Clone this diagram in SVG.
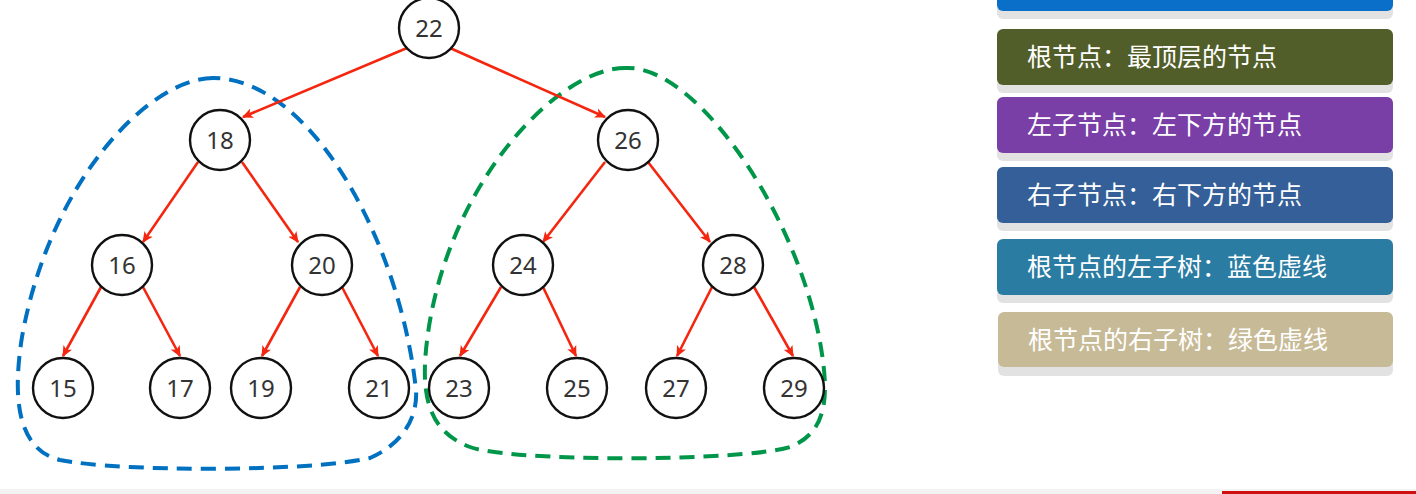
<svg xmlns="http://www.w3.org/2000/svg" width="1416" height="494" viewBox="0 0 1416 494">
<style>
.node circle{fill:#fff;stroke:#111;stroke-width:2.4}
.node text{font-family:"Noto Sans","Open Sans","DejaVu Sans",sans-serif;font-size:24px;fill:#333;text-anchor:middle}
.edge{stroke:#F5260F;stroke-width:2.6;fill:none;marker-end:url(#ah)}
.shadow{fill:#E2E2E2}
.lbl{font-family:"Noto Sans CJK SC","Noto Sans",sans-serif;font-size:25px;fill:#fff}
.hull{fill:none;stroke-width:4;stroke-dasharray:15 9}
</style>
<defs>
<marker id="ah" viewBox="0 0 10 10" refX="9" refY="5" markerWidth="11" markerHeight="11" markerUnits="userSpaceOnUse" orient="auto">
<path d="M0,0.5 L10,5 L0,9.5 L2.5,5 Z" fill="#F5260F"/>
</marker>
</defs>
<rect width="1416" height="494" fill="#fff"/>
<rect x="0" y="489" width="1416" height="5" fill="#F3F3F3"/>
<rect x="1222" y="491" width="194" height="3" fill="#D01010"/>

<g id="hulls">
<path class="hull" stroke="#0070C0" d="M213,78 C150,78 50,180 22,337 C12,400 18,450 60,460 C120,472 310,472 370,458 C400,445 418,420 416,390 C400,240 310,78 213,78 Z"/>
<path class="hull" stroke="#00964A" d="M627,68 C560,66 450,180 428,333 C420,390 425,430 470,447 C510,462 740,462 790,447 C820,435 828,410 824,370 C810,230 700,66 627,68 Z"/>
</g>

<g id="connectors">
<line class="edge" x1="407" y1="48" x2="243" y2="117"/>
<line class="edge" x1="450" y1="48" x2="605" y2="117"/>
<line class="edge" x1="198" y1="162" x2="143" y2="242"/>
<line class="edge" x1="242" y1="162" x2="298" y2="242"/>
<line class="edge" x1="605" y1="162" x2="543" y2="242"/>
<line class="edge" x1="648" y1="162" x2="710" y2="242"/>
<line class="edge" x1="101" y1="287" x2="63" y2="356"/>
<line class="edge" x1="143" y1="287" x2="180" y2="356"/>
<line class="edge" x1="300" y1="287" x2="262" y2="356"/>
<line class="edge" x1="342" y1="287" x2="378" y2="356"/>
<line class="edge" x1="501" y1="287" x2="460" y2="356"/>
<line class="edge" x1="543" y1="287" x2="576" y2="356"/>
<line class="edge" x1="712" y1="287" x2="677" y2="356"/>
<line class="edge" x1="754" y1="287" x2="793" y2="356"/>
</g>

<g id="n22" class="node"><circle cx="429" cy="28" r="30"/><text x="429" y="37">22</text></g>
<g id="n18" class="node"><circle cx="220" cy="140" r="30"/><text x="220" y="149">18</text></g>
<g id="n26" class="node"><circle cx="628" cy="140" r="30"/><text x="628" y="149">26</text></g>
<g id="n16" class="node"><circle cx="122" cy="265" r="30"/><text x="122" y="274">16</text></g>
<g id="n20" class="node"><circle cx="322" cy="265" r="30"/><text x="322" y="274">20</text></g>
<g id="n24" class="node"><circle cx="523" cy="265" r="30"/><text x="523" y="274">24</text></g>
<g id="n28" class="node"><circle cx="733" cy="265" r="30"/><text x="733" y="274">28</text></g>
<g id="n15" class="node"><circle cx="63" cy="388" r="30"/><text x="63" y="397">15</text></g>
<g id="n17" class="node"><circle cx="180" cy="388" r="30"/><text x="180" y="397">17</text></g>
<g id="n19" class="node"><circle cx="261" cy="388" r="30"/><text x="261" y="397">19</text></g>
<g id="n21" class="node"><circle cx="379" cy="388" r="30"/><text x="379" y="397">21</text></g>
<g id="n23" class="node"><circle cx="459" cy="388" r="30"/><text x="459" y="397">23</text></g>
<g id="n25" class="node"><circle cx="577" cy="388" r="30"/><text x="577" y="397">25</text></g>
<g id="n27" class="node"><circle cx="676" cy="388" r="30"/><text x="676" y="397">27</text></g>
<g id="n29" class="node"><circle cx="794" cy="388" r="30"/><text x="794" y="397">29</text></g>

<g id="legend-top">
<rect class="shadow" x="997" y="-30" width="396" height="49" rx="6"/>
<rect x="997" y="-40" width="396" height="51" rx="6" fill="#0A6FC8"/>
</g>
<g id="legend-root">
<rect class="shadow" x="997" y="37" width="396" height="56" rx="6"/>
<rect x="997" y="29" width="396" height="56" rx="6" fill="#525E2A"/>
<text class="lbl" x="1027" y="66">根节点：最顶层的节点</text>
</g>
<g id="legend-left">
<rect class="shadow" x="997" y="105" width="396" height="56" rx="6"/>
<rect x="997" y="97" width="396" height="56" rx="6" fill="#7A3EA7"/>
<text class="lbl" x="1027" y="134">左子节点：左下方的节点</text>
</g>
<g id="legend-right">
<rect class="shadow" x="997" y="175" width="396" height="56" rx="6"/>
<rect x="997" y="167" width="396" height="56" rx="6" fill="#345F98"/>
<text class="lbl" x="1027" y="204">右子节点：右下方的节点</text>
</g>
<g id="legend-lsub">
<rect class="shadow" x="997" y="247" width="396" height="56" rx="6"/>
<rect x="997" y="239" width="396" height="56" rx="6" fill="#2A7CA2"/>
<text class="lbl" x="1027" y="276">根节点的左子树：蓝色虚线</text>
</g>
<g id="legend-rsub">
<rect class="shadow" x="998" y="320" width="395" height="56" rx="6"/>
<rect x="998" y="312" width="395" height="55" rx="6" fill="#C7BA96"/>
<text class="lbl" x="1028" y="349" fill="#F6F3EC">根节点的右子树：绿色虚线</text>
</g>
</svg>
